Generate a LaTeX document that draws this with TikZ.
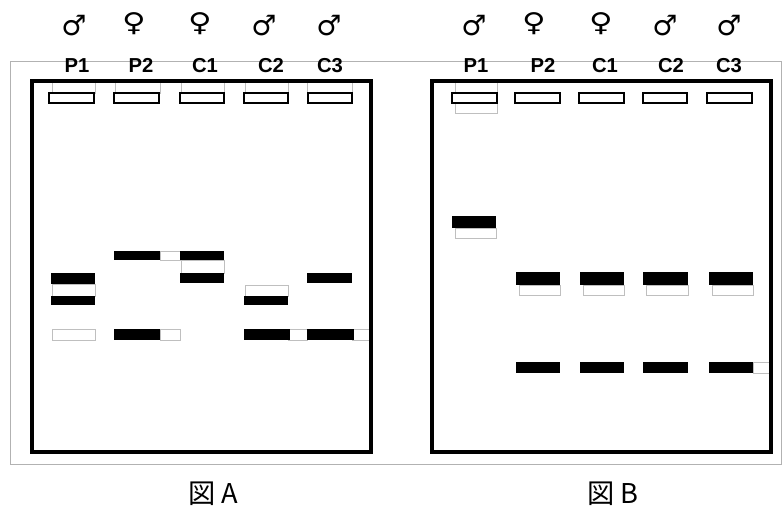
\documentclass[tikz,border=0pt]{standalone}
\usepackage{fontspec}
\setmainfont{Liberation Sans}
\newfontfamily\symfont{DejaVu Sans Bold}
\newfontfamily\cjkfont{Noto Sans CJK JP}
\newcommand{\femsym}{\scalebox{1.15}[0.92]{♀}}

\begin{document}
\begin{tikzpicture}[
    x=0.02cm, y=-0.02cm,
    gel/.style={draw, line width=2pt},
    well/.style={draw, line width=1.4pt},
    band/.style={fill=black},
    ghost/.style={draw=black!25, line width=0.5pt},
    sx/.style={font=\symfont\fontsize{16}{16}\selectfont, inner sep=0pt},
    ln/.style={font=\bfseries\fontsize{11.5}{12}\selectfont, anchor=base, inner sep=0pt},
    figcap/.style={font=\cjkfont\fontsize{15.5}{16}\selectfont, anchor=base, inner sep=0pt},
]
    \useasboundingbox (0,0) rectangle (782,508);
    % outer frame
    \draw[ghost, draw=black!30] (10,61) rectangle (781,464);

    % gel A
    \foreach \xa/\xb in {52/95,115/160,181/224,245/288,307/352}
        \draw[ghost] (\xa,81) rectangle (\xb,93);
    \draw[ghost] (52,284) rectangle (95,296);
    \draw[ghost] (52,329) rectangle (95,340);
    \draw[ghost] (160,251) rectangle (180,260);
    \draw[ghost] (160,329) rectangle (180,340);
    \draw[ghost] (181,260) rectangle (224,273);
    \draw[ghost] (245,285) rectangle (288,296);
    \draw[ghost] (288,329) rectangle (307,340);
    \draw[ghost] (352,329) rectangle (371,340);
    \draw[gel] (32,81) rectangle (371,452);
    \foreach \xa/\xb in {49/94,114/159,180/224,244/288,308/352}
        \draw[well] (\xa,93) rectangle (\xb,103);
    \fill[band] (51,273) rectangle (95,284);
    \fill[band] (51,296) rectangle (95,305);
    \fill[band] (114,251) rectangle (160,260);
    \fill[band] (114,329) rectangle (160,340);
    \fill[band] (180,251) rectangle (224,260);
    \fill[band] (180,273) rectangle (224,283);
    \fill[band] (244,296) rectangle (288,305);
    \fill[band] (244,329) rectangle (290,340);
    \fill[band] (307,273) rectangle (352,283);
    \fill[band] (307,329) rectangle (354,340);

    % gel B
    \draw[ghost] (455,81) rectangle (497,93);
    \draw[ghost] (455,103) rectangle (497,113);
    \draw[ghost] (455,228) rectangle (496,238);
    \foreach \xa/\xb in {519/560,583/624,646/688,712/753}
        \draw[ghost] (\xa,285) rectangle (\xb,295);
    \draw[ghost] (753,362) rectangle (771,373);
    \draw[gel] (432,81) rectangle (771,452);
    \foreach \xa/\xb in {452/497,515/560,579/624,643/687,707/752}
        \draw[well] (\xa,93) rectangle (\xb,103);
    \fill[band] (452,216) rectangle (496,228);
    \foreach \xa/\xb in {516/560,580/624,643/688,709/753} {
        \fill[band] (\xa,272) rectangle (\xb,285);
        \fill[band] (\xa,362) rectangle (\xb,373);
    }

    % labels
    \node[sx] (sa1) at (74,26) {♂};
    \node[sx] (sa2) at (134,24) {\femsym};
    \node[sx] (sa3) at (200,24) {\femsym};
    \node[sx] (sa4) at (264,26) {♂};
    \node[sx] (sa5) at (329,26) {♂};
    \node[ln] (la1) at (77,72) {P1};
    \node[ln] (la2) at (141,72) {P2};
    \node[ln] (la3) at (205,72) {C1};
    \node[ln] (la4) at (271,72) {C2};
    \node[ln] (la5) at (330,72) {C3};
    \node[sx] (sb1) at (474,26) {♂};
    \node[sx] (sb2) at (534,24) {\femsym};
    \node[sx] (sb3) at (601,24) {\femsym};
    \node[sx] (sb4) at (665,26) {♂};
    \node[sx] (sb5) at (729,26) {♂};
    \node[ln] (lb1) at (476,72) {P1};
    \node[ln] (lb2) at (543,72) {P2};
    \node[ln] (lb3) at (605,72) {C1};
    \node[ln] (lb4) at (671,72) {C2};
    \node[ln] (lb5) at (729,72) {C3};

    \node[figcap] (capa) at (213,503) {図 A};
    \node[figcap] (capb) at (613,503) {図 B};
\end{tikzpicture}
\end{document}
